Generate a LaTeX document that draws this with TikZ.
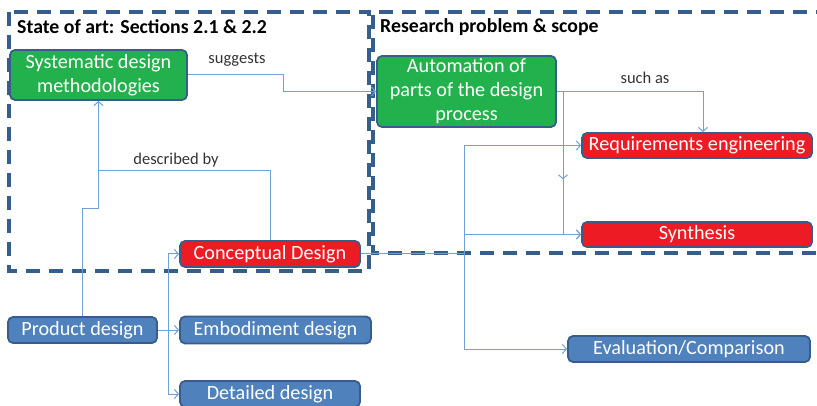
\documentclass[tikz,border=0pt]{standalone}
\usepackage{fontspec}
\setmainfont{Carlito}
\usetikzlibrary{arrows.meta,decorations.markings}
\definecolor{gfill}{RGB}{34,177,76}
\definecolor{rfill}{RGB}{237,28,36}
\definecolor{bfill}{RGB}{79,129,189}
\definecolor{bord}{RGB}{56,93,138}
\definecolor{conn}{RGB}{111,160,216}
\definecolor{dashc}{RGB}{54,94,140}
\begin{document}
\begin{tikzpicture}[x=1pt,y=-1pt,
  box/.style={draw=bord,line width=1.8pt,rounded corners=5pt,text=white,
    font=\fontsize{20.2}{24}\selectfont,align=center,inner sep=0pt},
  gbox/.style={box,fill=gfill},
  rbox/.style={box,fill=rfill},
  bbox/.style={box,fill=bfill},
  link/.style={draw=conn,line width=1pt},
  arr/.style={link,-{Straight Barb[length=4pt,width=9pt]}},
  dbox/.style={draw=dashc,line width=3.5pt,dash pattern=on 14pt off 9pt},
  ttl/.style={font=\fontsize{19.8}{23}\selectfont\bfseries,anchor=west,inner sep=0pt},
  lbl/.style={font=\fontsize{16.5}{19}\selectfont,text=black!80,inner sep=0pt}]
\useasboundingbox (0,0) rectangle (817,406);

% dashed frames
\draw[dbox] (9,12) rectangle (369,271);
\draw[dbox] (830,12) -- (373,12) -- (373,253) -- (830,253);
\node[ttl] (t1) at (17,27) {State of art: Sections 2.1 \& 2.2};
\node[ttl] (t2) at (380,27) {Research problem \& scope};

% nodes
\node[gbox,minimum width=177pt,minimum height=50pt] (sys) at (98.5,75) {Systematic design\\methodologies};
\node[gbox,minimum width=179pt,minimum height=71pt] (auto) at (466.5,91.5) {Automation of\\parts of the design\\process};
\node[rbox,minimum width=230pt,minimum height=25pt] (req) at (697,145.5) {Requirements engineering};
\node[rbox,minimum width=230pt,minimum height=25pt] (syn) at (697,234.5) {Synthesis};
\node[rbox,minimum width=180pt,minimum height=26pt] (con) at (270,254) {Conceptual Design};
\node[bbox,minimum width=149pt,minimum height=26pt] (prod) at (82.5,330) {Product design};
\node[bbox,minimum width=191pt,minimum height=27pt] (emb) at (275.5,330) {Embodiment design};
\node[bbox,minimum width=180pt,minimum height=26pt] (det) at (270,394) {Detailed design};
\node[bbox,minimum width=242pt,minimum height=26pt] (eval) at (689,349) {Evaluation/Comparison};

% connectors
\draw[arr] (sys.east) -- ([xshift=96pt]sys.east) |- (auto.west);
\node[lbl] (l1) at (237,60) {suggests};

\coordinate (dj) at (98.5,171);
\draw[arr] (prod.north) -- (82.5,209) -| (sys.south);
\draw[link] (con.north) |- (dj);
\node[lbl] (l2) at (176,160) {described by};

\coordinate (pj) at (168,330);
\draw[arr] (prod.east) -- (emb.west);
\draw[arr] (pj) |- (con.west);
\draw[arr] (pj) |- (det.west);

\coordinate (cj) at (464,254);
\draw[link] (con.east) -- (cj);
\draw[arr] (cj) |- (req.west);
\draw[arr] (cj) |- (syn.west);
\draw[arr] (cj) |- (eval.west);

\draw[arr] (auto.east) -| ([xshift=6pt]req.north);
\node[lbl] (l3) at (645,78) {such as};
\draw[arr,postaction={decorate},decoration={markings,
   mark=at position 94pt with {\arrow{Straight Barb[length=4pt,width=9pt]}}}]
  (auto.east) -- (563,91.5) -- (563,234.5) -- (syn.west);
\end{tikzpicture}
\end{document}
